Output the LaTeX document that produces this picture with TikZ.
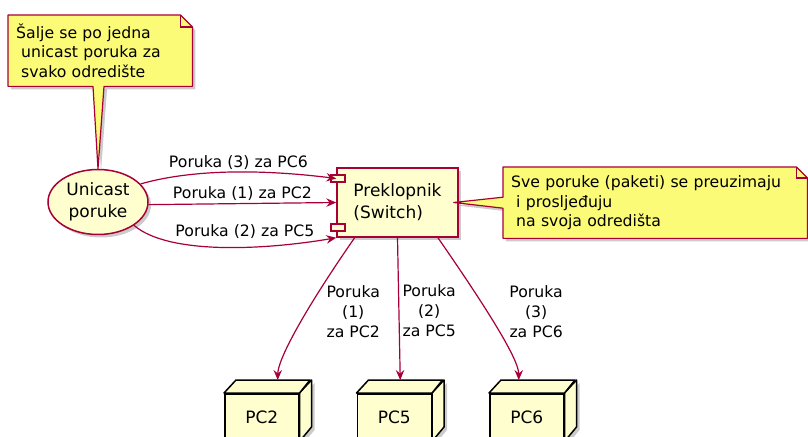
\documentclass[tikz,border=0pt]{standalone}
\usepackage{fontspec}
\setmainfont{DejaVu Sans}
\usepackage{tikz}
\usetikzlibrary{
  arrows.meta,
  shapes.geometric,
  positioning,
  calc,
  shadows
}
\definecolor{umlBorder}{HTML}{A80036}
\definecolor{umlFill}{HTML}{FEFECE}
\definecolor{umlNote}{HTML}{FBFB77}
\definecolor{umlShadow}{HTML}{8C8C8C}
\pgfdeclarelayer{front}
\pgfsetlayers{main,front}
\tikzset{
  umlshadow/.style={drop shadow={shadow xshift=3bp, shadow yshift=-3bp, fill=umlShadow, opacity=.45}},
  usecase/.style={
    ellipse, draw=umlBorder, fill=umlFill, line width=1.5bp, minimum width=100bp, minimum height=65bp,
    inner sep=0pt, align=center, font=\fontsize{17bp}{22bp}\selectfont, umlshadow
  },
  component/.style={
    draw=umlBorder, fill=umlFill, line width=1.5bp, minimum width=121bp, minimum height=69bp,
    align=left, font=\fontsize{17bp}{22bp}\selectfont, umlshadow
  },
  port/.style={draw=umlBorder, fill=umlFill, line width=1.2bp, minimum width=14bp, minimum height=7bp, inner sep=0pt},
  pcfront/.style={
    draw=black, fill=umlFill, line width=1.5bp, minimum width=74bp, minimum height=47bp,
    anchor=north west, font=\fontsize{17bp}{22bp}\selectfont, umlshadow
  },
  pcface/.style={draw=black, fill=umlFill, line width=1.5bp, line join=round},
  notetext/.style={
    anchor=north west, minimum height=71bp, inner xsep=8bp, inner ysep=0pt,
    align=left, font=\fontsize{15.7bp}{19.5bp}\selectfont
  },
  notebody/.style={draw=umlBorder, fill=umlNote, line width=1.2bp, line join=round, umlshadow},
  notefold/.style={draw=umlBorder, line width=1.2bp},
  msg/.style={-{Stealth[length=10bp, width=8.5bp, inset=3.5bp]}, draw=umlBorder, line width=1.2bp},
  msglabel/.style={font=\fontsize{15.7bp}{20bp}\selectfont, inner sep=2bp},
  droplabel/.style={msglabel, align=center, anchor=west}
}
\begin{document}
\begin{tikzpicture}[x=1bp, y=-1bp]
  \useasboundingbox (0,0) rectangle (808,437);
  \clip (0,0) rectangle (808,437);
  \node[usecase] (uc) at (98,202) {Unicast\\poruke};
  \node[component] (sw) at (397.5,202.5) {Preklopnik\\(Switch)};
  \node[port] (p1) at (338,178.5) {};
  \node[port] (p2) at (338,227.5) {};

  \node[pcfront] (pc2) at (224,393) {PC2};
  \path[pcface, umlshadow] (pc2.north east) -- ++(12,-13) -- ++(0,47) -- (pc2.south east) -- cycle;
  \path[pcface] (pc2.north west) -- ++(12,-13) -- ++(74,0) -- (pc2.north east) -- cycle;
  \node[pcfront, right=57bp of pc2] (pc5) {PC5};
  \path[pcface, umlshadow] (pc5.north east) -- ++(12,-13) -- ++(0,47) -- (pc5.south east) -- cycle;
  \path[pcface] (pc5.north west) -- ++(12,-13) -- ++(74,0) -- (pc5.north east) -- cycle;
  \node[pcfront, right=57bp of pc5] (pc6) {PC6};
  \path[pcface, umlshadow] (pc6.north east) -- ++(12,-13) -- ++(0,47) -- (pc6.south east) -- cycle;
  \path[pcface] (pc6.north west) -- ++(12,-13) -- ++(74,0) -- (pc6.north east) -- cycle;

  \draw[msg] (uc.23) .. controls +(60,-17) and +(-60,-7.5) .. (sw.west |- p1)
    node[msglabel, above, pos=.5] {Poruka (3) za PC6};
  \draw[msg] (uc.-3) -- (sw.west)
    node[msglabel, above, pos=.5] {Poruka (1) za PC2};
  \draw[msg] (uc.-33) .. controls +(35,30) and +(-70,12) .. (sw.south west)
    node[msglabel, above, pos=.6, yshift=6bp] {Poruka (2) za PC5};

  \draw[msg] ($(sw.south west)!.15!(sw.south east)$) .. controls +(-52,75) and +(0,-20) .. ($(pc2.north)+(16,-13)$)
    node[droplabel, pos=.38, xshift=17bp] {Poruka\\(1)\\za PC2};
  \draw[msg] (sw.south) -- ($(pc5.north)+(6,-13)$)
    node[droplabel, pos=.51, xshift=1bp] {Poruka\\(2)\\za PC5};
  \draw[msg] ($(sw.south west)!.83!(sw.south east)$) .. controls +(52,75) and +(0,-20) .. ($(pc6.north)+(-8,-13)$)
    node[droplabel, pos=.38, xshift=20bp] {Poruka\\(3)\\za PC6};

  \begin{pgfonlayer}{front}
    \node[notetext, text width=168bp] (n1) at (8,15)
      {Šalje se po jedna\\\hspace*{.32em}unicast poruka za\\\hspace*{.32em}svako odredište};
    \node[notetext, text width=288bp] (n2) at (503,167)
      {Sve poruke (paketi) se preuzimaju\\\hspace*{.32em}i prosljeđuju\\\hspace*{.32em}na svoja odredišta};
  \end{pgfonlayer}
  \path[notebody] (n1.north west) -- ($(n1.north east)+(-12,0)$) -- ($(n1.north east)+(0,12)$) -- (n1.south east)
    -- ($(n1.south west)+(96,0)$) -- (uc.north) -- ($(n1.south west)+(85,0)$) -- (n1.south west) -- cycle;
  \draw[notefold] ($(n1.north east)+(-12,0)$) -- ++(0,12) -- ++(12,0);
  \path[notebody] (n2.north west) -- ($(n2.north east)+(-11,0)$) -- ($(n2.north east)+(0,11)$) -- (n2.south east)
    -- (n2.south west) -- ($(n2.west)+(0,5.5)$) -- ($(sw.east)+(-5,0)$) -- ($(n2.west)+(0,-5.5)$) -- cycle;
  \draw[notefold] ($(n2.north east)+(-11,0)$) -- ++(0,11) -- ++(11,0);
\end{tikzpicture}
\end{document}
